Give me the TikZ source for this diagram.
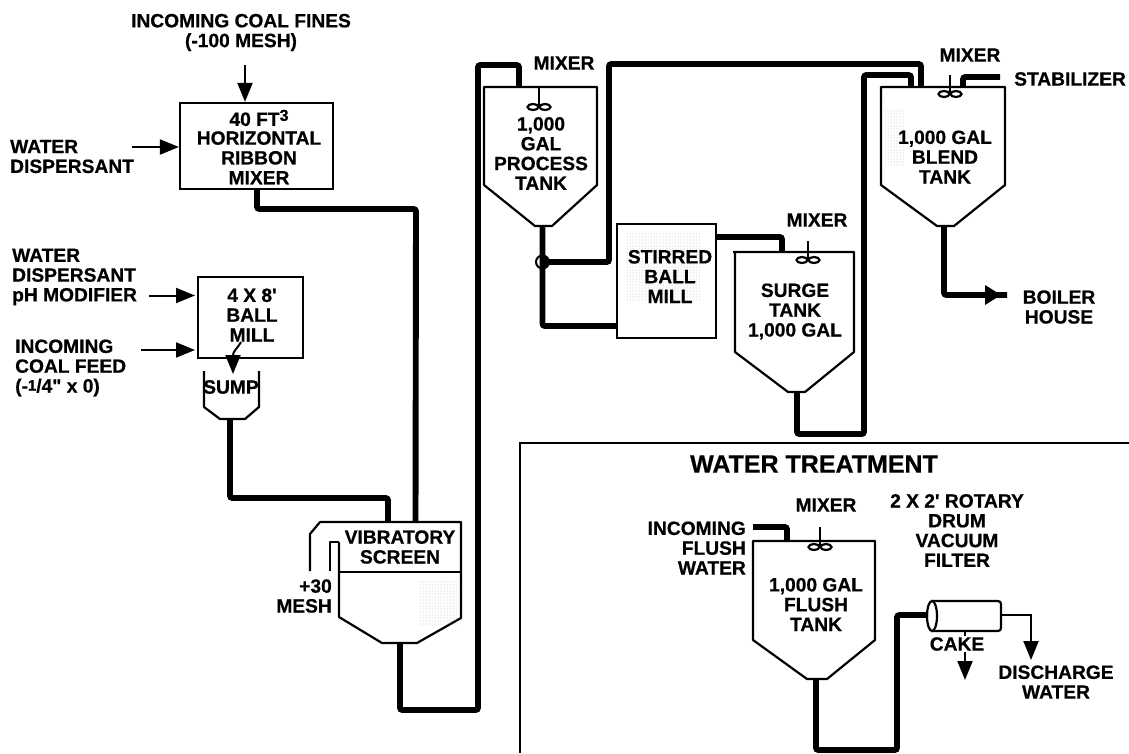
\documentclass[tikz,border=0pt]{standalone}
\usepackage{fontspec}
\setmainfont{Liberation Sans}[Ligatures=TeXOff,BoldFeatures={FakeBold=0.6}]
\usetikzlibrary{arrows.meta,patterns}
\tikzset{
  x=1pt,y=-1pt,
  pipe/.style={line width=5.9pt,rounded corners=2.5pt,line cap=butt},
  feed/.style={line width=2pt,-{Triangle[length=19pt,width=15pt]}},
  vessel/.style={line width=2.2pt,line join=round,fill=white},
  box/.style={draw,line width=2.2pt,fill=white,inner sep=0pt},
  lbl/.style={font=\bfseries\fontsize{19.2}{19.8}\selectfont,align=center,inner sep=0pt},
  lbll/.style={lbl,align=left,anchor=west},
  lblr/.style={lbl,align=right,anchor=east},
  stip/.style={pattern=dots,pattern color=black!30,draw=none},
}
\newcommand{\stirrer}[3]{% x, top, lobes y
  \draw[line width=1.7pt] (#1,#2) -- (#1,#3);
  \draw[line width=2.2pt] (#1-6,#3) ellipse (5.5 and 3);
  \draw[line width=2.2pt] (#1+6,#3) ellipse (5.5 and 3);
}
\begin{document}
\begin{tikzpicture}
\useasboundingbox (0,0) rectangle (1129,753);
\fill[white] (0,0) rectangle (1129,753);

% ---------- vessels ----------
\node[box,minimum width=153pt,minimum height=86pt] (ribbon) at (256.5,146) {};
\node[box,minimum width=105pt,minimum height=81pt] (ballmill) at (250.5,317.5) {};
\node[box,minimum width=99pt,minimum height=114pt] (stirred) at (666.5,281) {};

\draw[vessel,fill=none] (204,371) -- (204,407) -- (220,419) -- (245,419) -- (259,407) -- (259,371);
\draw[vessel] (484,87) -- (597,87) -- (597,185) -- (552,226) -- (535,226) -- (484,185) -- cycle;
\draw[vessel] (733,252) -- (854,252) -- (854,352) -- (805,392) -- (788,392) -- (735,352) -- (735,252);
\draw[vessel] (881,87) -- (1005,87) -- (1005,185) -- (954,226) -- (937,226) -- (881,185) -- cycle;
\draw[vessel] (753,541) -- (875,541) -- (875,640) -- (827,679) -- (807,679) -- (753,640) -- cycle;
\draw[vessel] (339,542) -- (339,617) -- (382,643) -- (417,643) -- (461,618) -- (461,522) -- (320,522) -- (310,534) -- (310,571);
\draw[vessel,fill=none] (330,571) -- (330,542) -- (339,542);
\draw[line width=2.2pt] (339,572) -- (461,572);

% faint stipple
\fill[stip] (625,232) rectangle (700,300);
\fill[stip] (420,580) rectangle (457,625);
\fill[stip] (885,110) rectangle (905,165);

% ---------- drum filter ----------
\draw[line width=2.2pt,fill=white,rounded corners=3pt] (931,601) -- (1001,601) -- (1001,631) -- (931,631);
\draw[line width=2.2pt,fill=white] (932,616) ellipse (5 and 15);

% ---------- stirrers ----------
\stirrer{539}{87}{107}
\stirrer{808}{241}{260}
\stirrer{950}{75}{94}
\stirrer{820}{527}{547}

% ---------- ports ----------
\coordinate (ribbonOut) at (257,189);
\coordinate (screenIn1) at (388,522);
\coordinate (screenIn2) at (415.5,522);
\coordinate (sumpOut) at (230,419);
\coordinate (screenOut) at (400,643);
\coordinate (procIn) at (519,87);
\coordinate (procOut) at (542.5,226);
\coordinate (junction) at (542.5,262);
\coordinate (millIn) at (617,326);
\coordinate (millOut) at (716,237);
\coordinate (surgeIn) at (782,252);
\coordinate (surgeOut) at (797,392);
\coordinate (blendIn1) at (921,87);
\coordinate (blendIn2) at (911,87);
\coordinate (blendIn3) at (963,87);
\coordinate (stabEnd) at (1000,77);
\coordinate (blendOut) at (944,226);
\coordinate (boilerEnd) at (1007,295);
\coordinate (flushIn) at (753,527);
\coordinate (flushInEnd) at (787,541);
\coordinate (flushOut) at (816,679);
\coordinate (drumIn) at (928,615);
\coordinate (drumOut) at (1001,615);
\coordinate (drumBot) at (965,631);

% ---------- pipes ----------
\draw[pipe] (ribbonOut) |- (416,209) -- (screenIn2);
\draw[pipe] (sumpOut) |- (388,498) -- (screenIn1);
\draw[pipe] (screenOut) |- (478,710) |- (519,65) -- (procIn);
\draw[pipe] (procOut) |- (millIn);
\draw[pipe] (junction) -| (609,64) -| (blendIn1);
\draw[pipe] (millOut) -| (surgeIn);
\draw[pipe] (surgeOut) |- (864,434) |- (911,75) -- (blendIn2);
\draw[pipe] (stabEnd) -| (blendIn3);
\draw[pipe] (blendOut) |- (boilerEnd);
\draw[pipe] (flushIn) -| (flushInEnd);
\draw[pipe] (flushOut) |- (897,750) |- (drumIn);
\draw[line width=2pt] (junction) circle (6.5);
\fill (542.5,255.5) arc (-90:90:6.5) -- cycle;

% ---------- thin flows ----------
\coordinate (a1) at (245,65);
\coordinate (a2) at (132,147);
\coordinate (a3) at (149,295.5);
\coordinate (a4) at (141,350);
\draw[feed] (a1) -- (a1 |- ribbon.north);
\draw[feed] (a2) -- (ribbon.west |- a2);
\draw[feed] (a3) -- (195,295.5);
\draw[feed] (a4) -- (195,350);
\draw[feed] (241,342) .. controls (237,349) and (233,351) .. (233,374);
\fill (985,285) -- (1001,295) -- (985,305) -- cycle;
\coordinate (dis) at (1031,660);
\draw[feed] (drumOut) -| (dis);
\coordinate (cak) at (965,680);
\draw[feed] (drumBot) -- (cak);

% ---------- water treatment frame ----------
\draw[line width=2.2pt] (1129,443) -- (520,443) -- (520,753);

% ---------- labels ----------
\node[lbl] (t1) at (241,32.5) {INCOMING COAL FINES\\(-100 MESH)};
\node[lbl] (t2) at (259,147) {40 FT\raisebox{5pt}{\fontsize{16}{16}\selectfont 3}\\[-1pt]HORIZONTAL\\RIBBON\\MIXER};
\node[lbll] (t3) at (10,156.5) {WATER\\DISPERSANT};
\node[lbll] (t4) at (12,277) {WATER\\DISPERSANT\\pH MODIFIER};
\node[lbl] (t5) at (252,315) {4 X 8'\\BALL\\MILL};
\node[lbll] (t6) at (15,368) {INCOMING\\COAL FEED\\(-\raisebox{2pt}{\fontsize{15}{15}\selectfont 1}/4" x 0)};
\node[lbl] (t7) at (231,387) {SUMP};
\node[lbl] (t8) at (564,63) {MIXER};
\node[lbl] (t9) at (541,153.5) {1,000\\GAL\\PROCESS\\TANK};
\node[lbl] (t10) at (670,276.5) {STIRRED\\BALL\\MILL};
\node[lbl] (t11) at (817,220) {MIXER};
\node[lbl] (t12) at (795,311.5) {SURGE\\TANK\\1,000 GAL};
\node[lbl] (t13) at (970,55) {MIXER};
\node[lbll] (t14) at (1014,79) {STABILIZER};
\node[lbl] (t15) at (945,157) {1,000 GAL\\BLEND\\TANK};
\node[lbl] (t16) at (1059,307) {BOILER\\HOUSE};
\node[lbl] (t17) at (400,547) {VIBRATORY\\SCREEN};
\node[lblr] (t18) at (332,596) {+30\\MESH};
\node[lbl,font=\bfseries\fontsize{25}{26}\selectfont] (t19) at (814,464) {WATER TREATMENT};
\node[lbl] (t20) at (826,505) {MIXER};
\node[lbl] (t21) at (957,530.5) {2 X 2' ROTARY\\DRUM\\VACUUM\\FILTER};
\node[lblr] (t22) at (746,548) {INCOMING\\FLUSH\\WATER};
\node[lbl] (t23) at (816,604.5) {1,000 GAL\\FLUSH\\TANK};
\node[lbl,fill=white,inner sep=1pt] (t24) at (957,644) {CAKE};
\node[lbl] (t25) at (1056,682) {DISCHARGE\\WATER};
\end{tikzpicture}
\end{document}
